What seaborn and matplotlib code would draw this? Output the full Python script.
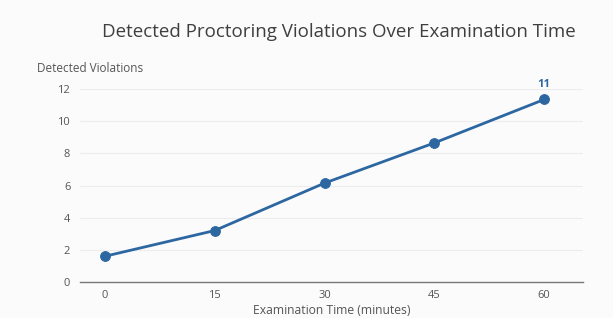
import matplotlib
matplotlib.use('Agg')
import matplotlib.pyplot as plt
import seaborn as sns
import pandas as pd

# data
minutes = [0, 15, 30, 45, 60]
violations = [1.6, 3.2, 6.15, 8.65, 11.35]
y_ticks = [0, 2, 4, 6, 8, 10, 12]
last_label = "11"

df = pd.DataFrame({'minutes': minutes, 'violations': violations})

sns.set_theme(style='white')
plt.rcParams['font.family'] = ['Open Sans', 'DejaVu Sans']

line_color = '#2d67a2'
text_color = '#555555'
bg = '#fbfbfb'

fig = plt.figure(figsize=(6.13, 3.18), dpi=100, facecolor=bg)
ax = fig.add_axes([0.1305, 0.1132, 0.8205, 0.6068])
ax.set_facecolor(bg)

sns.lineplot(data=df, x='minutes', y='violations', ax=ax, color=line_color,
             linewidth=2, marker='o', markersize=7, markeredgecolor=line_color)

ax.set_xlim(-3.4, 65.3)
ax.set_ylim(0, 12)
ax.set_xticks(minutes)
ax.set_yticks(y_ticks)
ax.grid(axis='y', color='#ececec', linewidth=0.8)
ax.set_axisbelow(True)
for s in ['top', 'right', 'left']:
    ax.spines[s].set_visible(False)
ax.spines['bottom'].set_color('#777777')
ax.spines['bottom'].set_linewidth(1)
ax.tick_params(axis='x', length=0, labelsize=8, labelcolor=text_color, pad=6)
ax.tick_params(axis='y', length=0, labelsize=8, labelcolor=text_color, pad=7)

ax.set_xlabel('Examination Time (minutes)', fontsize=8.7, color=text_color, labelpad=2)
ax.set_ylabel('')

ax.annotate(last_label, (minutes[-1], violations[-1]), xytext=(0, 7),
            textcoords='offset points', ha='center', va='bottom',
            fontsize=8, fontweight='bold', color=line_color)

fig.text(0.06, 0.785, 'Detected Violations', fontsize=8.5, color=text_color,
         ha='left', va='center')
fig.text(0.553, 0.9, 'Detected Proctoring Violations Over Examination Time',
         fontsize=13.5, color='#3f3f3f', ha='center', va='center')

fig.savefig('out.png', dpi=100, facecolor=bg)
